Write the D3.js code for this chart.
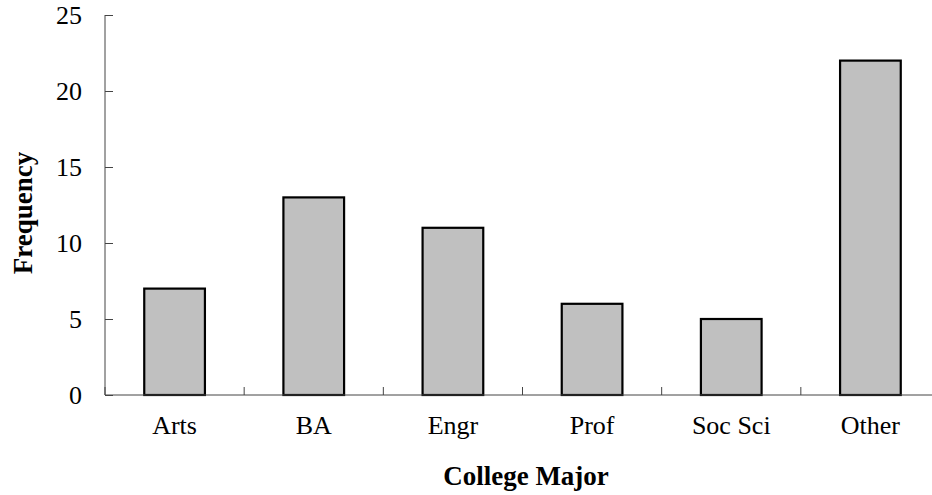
<!DOCTYPE html>
<html>
<head>
<meta charset="utf-8">
<script src="https://cdn.jsdelivr.net/npm/d3@7"></script>
<style>
  html, body { margin: 0; padding: 0; background: #fff; }
  svg { display: block; }
  text { font-family: "Liberation Serif", "Times New Roman", serif; fill: #000; }
</style>
</head>
<body>
<svg id="chart" width="932" height="495"></svg>
<script>
const categories = ["Arts", "BA", "Engr", "Prof", "Soc Sci", "Other"];
const frequencies = [7, 13, 11, 6, 5, 22];
const yTickValues = [0, 5, 10, 15, 20, 25];
const xTitle = "College Major";
const yTitle = "Frequency";

(function () {
const svg = d3.select("#chart");
const mLeft = 105, mRight = 940, mTop = 15, mBottom = 395;

const x = d3.scaleBand().domain(categories).range([mLeft, mRight])
  .paddingInner(0.564).paddingOuter(0.282);
const xStep = d3.scaleBand().domain(categories).range([mLeft, mRight]).padding(0);
const y = d3.scaleLinear().domain([0, 25]).range([mBottom, mTop]);

// bars
svg.append("g").selectAll("rect").data(categories).join("rect")
  .attr("x", d => x(d))
  .attr("y", (d, i) => y(frequencies[i]))
  .attr("width", x.bandwidth())
  .attr("height", (d, i) => y(0) - y(frequencies[i]))
  .attr("fill", "#c0c0c0")
  .attr("stroke", "#000")
  .attr("stroke-width", 2.2);

// y axis
const yAxis = svg.append("g").attr("transform", `translate(${mLeft},0)`)
  .call(d3.axisRight(y).tickValues(yTickValues).tickSize(8).tickFormat(() => ""));
yAxis.select(".domain").attr("stroke", "#444").attr("d", `M0,${mTop}V${mBottom}`);
yAxis.selectAll(".tick line").attr("stroke", "#444");

svg.append("g").selectAll("text").data(yTickValues).join("text")
  .attr("x", 82).attr("y", d => y(d)).attr("dy", "0.34em")
  .attr("text-anchor", "end").attr("font-size", 26)
  .text(d => d);

// x axis
const xAxisG = svg.append("g");
xAxisG.append("line").attr("x1", mLeft).attr("x2", mRight).attr("y1", mBottom).attr("y2", mBottom)
  .attr("stroke", "#444");
const boundaries = categories.map(c => xStep(c)).concat([mRight]);
xAxisG.selectAll("line.tk").data(boundaries).join("line").attr("class", "tk")
  .attr("x1", d => d).attr("x2", d => d).attr("y1", mBottom).attr("y2", mBottom - 8)
  .attr("stroke", "#444");

svg.append("g").selectAll("text").data(categories).join("text")
  .attr("x", d => x(d) + x.bandwidth() / 2).attr("y", 434)
  .attr("text-anchor", "middle").attr("font-size", 26)
  .text(d => d);

// titles
svg.append("text").attr("x", 526).attr("y", 485)
  .attr("text-anchor", "middle").attr("font-size", 27).attr("font-weight", "bold")
  .text(xTitle);
svg.append("text").attr("transform", `translate(32,213) rotate(-90)`)
  .attr("text-anchor", "middle").attr("font-size", 27).attr("font-weight", "bold")
  .text(yTitle);
})();
</script>
</body>
</html>
